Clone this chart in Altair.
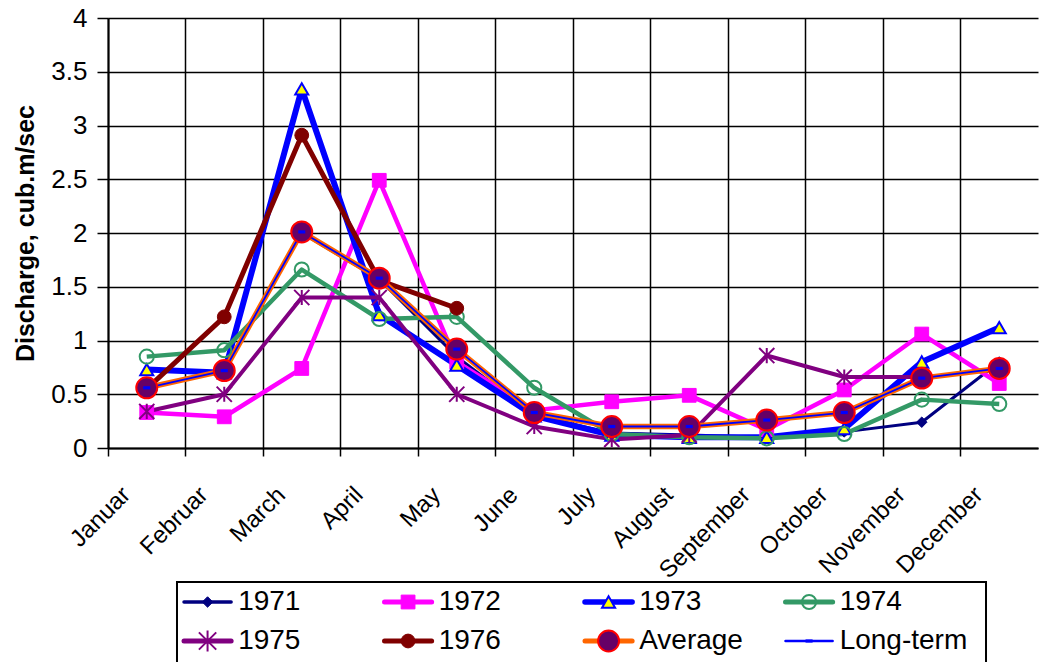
import altair as alt
import pandas as pd

months = ["Januar", "Februar", "March", "April", "May", "June", "July",
          "August", "September", "October", "November", "December"]

s1971 = [0.56, 0.72, 2.00, 1.57, 0.85, 0.30, 0.14, 0.12, 0.10, 0.15, 0.24, 0.80]
s1972 = [0.33, 0.29, 0.74, 2.49, 0.80, 0.35, 0.43, 0.49, 0.17, 0.54, 1.06, 0.60]
s1973 = [0.73, 0.70, 3.34, 1.24, 0.77, 0.30, 0.12, 0.10, 0.10, 0.18, 0.80, 1.12]
s1974 = [0.85, 0.91, 1.66, 1.20, 1.22, 0.56, 0.13, 0.10, 0.09, 0.13, 0.45, 0.41]
s1975 = [0.34, 0.50, 1.40, 1.40, 0.50, 0.20, 0.08, 0.12, 0.86, 0.66, 0.66, None]
s1976 = [0.55, 1.22, 2.91, 1.56, 1.30, None, None, None, None, None, None, None]
average = [0.56, 0.72, 2.01, 1.58, 0.92, 0.33, 0.20, 0.20, 0.26, 0.33, 0.65, 0.74]
long_term = [0.56, 0.72, 2.01, 1.58, 0.92, 0.33, 0.20, 0.20, 0.26, 0.33, 0.65, 0.74]

names = ["1971", "1972", "1973", "1974", "1975", "1976", "Average", "Long-term"]
values = [s1971, s1972, s1973, s1974, s1975, s1976, average, long_term]

STAR = "M-1,-1L1,1M-1,1L1,-1M0,-1L0,1"
STAR8 = "M-1,-1L1,1M-1,1L1,-1M0,-1.2L0,1.2"
DASH = "M-1,-0.45L1,-0.45L1,0.45L-1,0.45Z"

styles = {
    "1971": dict(line="#000080", lw=3, shape="diamond", size=110, filled=True, fill="#000080", stroke="#000080", sw=1),
    "1972": dict(line="#FF00FF", lw=4.5, shape="square", size=190, filled=True, fill="#FF00FF", stroke="#FF00FF", sw=1),
    "1973": dict(line="#0000FF", lw=6, shape="triangle-up", size=170, filled=True, fill="#FFFF00", stroke="#0000FF", sw=2),
    "1974": dict(line="#339966", lw=4.5, shape="circle", size=200, filled=False, fill=None, stroke="#339966", sw=2),
    "1975": dict(line="#800080", lw=4, shape=STAR, size=230, filled=False, fill=None, stroke="#800080", sw=2),
    "1976": dict(line="#800000", lw=5, shape="circle", size=190, filled=True, fill="#800000", stroke="#800000", sw=1),
    "Average": dict(line="#FF6600", lw=5.5, shape="circle", size=440, filled=True, fill="#660066", stroke="#FF0000", sw=2),
    "Long-term": dict(line="#0000FF", lw=1.8, shape=DASH, size=50, filled=True, fill="#0000FF", stroke="#0000FF", sw=0),
}
legend_width = {"1971": 3.5, "1972": 5, "1973": 5.5, "1974": 5, "1975": 5,
                "1976": 5, "Average": 5, "Long-term": 2.5}

FONT = "Liberation Sans"

x_enc = alt.X(
    "month:N", sort=months, title=None,
    scale=alt.Scale(type="band", domain=months, paddingInner=0, paddingOuter=0),
    axis=alt.Axis(
        bandPosition=0, grid=True, gridColor="black", gridWidth=1.5,
        domainColor="black", domainWidth=2, tickColor="black", tickWidth=1.5, tickSize=8,
        labelAngle=-45, labelAlign="right", labelBaseline="middle",
        labelOffset=-20, labelPadding=35, labelFont=FONT, labelFontSize=24,
        labelColor="black", labelOverlap=False, labelFlush=False, labelBound=False,
    ),
)
y_enc = alt.Y(
    "value:Q",
    scale=alt.Scale(domain=[0, 4], nice=False, zero=True),
    axis=alt.Axis(
        values=[0, 0.5, 1, 1.5, 2, 2.5, 3, 3.5, 4], format="~g",
        grid=True, gridColor="black", gridWidth=1.5,
        domainColor="black", domainWidth=2, tickColor="black", tickWidth=1.5, tickSize=11,
        labelFont=FONT, labelFontSize=26, labelColor="black", labelPadding=10,
        title="Discharge, cub.m/sec", titleFont=FONT, titleFontSize=25,
        titleFontWeight="bold", titleColor="black", titlePadding=12,
    ),
)

frames = {}
for n, v in zip(names, values):
    frames[n] = pd.DataFrame({"month": months, "value": v, "series": n})

line_layers = []
point_layers = []
for n in names:
    st = styles[n]
    line_layers.append(
        alt.Chart(frames[n]).mark_line(color=st["line"], strokeWidth=st["lw"], strokeJoin="round")
        .encode(x=x_enc, y=y_enc)
    )
    pkw = dict(shape=st["shape"], size=st["size"], filled=st["filled"], opacity=1,
               stroke=st["stroke"], strokeWidth=st["sw"])
    if st["fill"] is not None:
        pkw["fill"] = st["fill"]
    point_layers.append(
        alt.Chart(frames[n]).mark_point(**pkw).encode(x=x_enc, y=y_enc)
    )

main = alt.layer(*line_layers, *point_layers)

# ---- legend (own scales, in column / row units) ----
leg_x = alt.Scale(domain=[0, 4], range=[72, 874], nice=False, zero=False)
leg_y = alt.Scale(domain=[0, 1], range=[584, 623], nice=False, zero=False)

leg_rows = []
for i, n in enumerate(names):
    c = i % 4
    r = i // 4
    leg_rows.append({"name": n, "row": r, "xs": c + 0.02, "xe": c + 0.255,
                     "xm": c + 0.1375, "xt": c + 0.29})
leg_df = pd.DataFrame(leg_rows)

box_df = pd.DataFrame([{"x0": -0.015, "x1": 4.02, "y0": -0.51, "y1": 1.62}])
box = alt.Chart(box_df).mark_rect(fill="white", stroke="black", strokeWidth=2).encode(
    x=alt.X("x0:Q", scale=leg_x, axis=None),
    x2="x1:Q",
    y=alt.Y("y0:Q", scale=leg_y, axis=None),
    y2="y1:Q",
)

leg_layers = [box]
for n in names:
    st = styles[n]
    sub = leg_df[leg_df["name"] == n]
    leg_layers.append(
        alt.Chart(sub).mark_rule(color=st["line"], strokeWidth=legend_width[n], strokeCap="round")
        .encode(x=alt.X("xs:Q", scale=leg_x, axis=None), x2="xe:Q",
                y=alt.Y("row:Q", scale=leg_y, axis=None))
    )
    shape = STAR8 if n == "1975" else st["shape"]
    size = 300 if n == "1975" else st["size"]
    pkw = dict(shape=shape, size=size, filled=st["filled"], opacity=1,
               stroke=st["stroke"], strokeWidth=st["sw"])
    if st["fill"] is not None:
        pkw["fill"] = st["fill"]
    leg_layers.append(
        alt.Chart(sub).mark_point(**pkw)
        .encode(x=alt.X("xm:Q", scale=leg_x, axis=None),
                y=alt.Y("row:Q", scale=leg_y, axis=None))
    )
leg_layers.append(
    alt.Chart(leg_df).mark_text(align="left", baseline="middle", font=FONT, fontSize=28, color="black")
    .encode(x=alt.X("xt:Q", scale=leg_x, axis=None),
            y=alt.Y("row:Q", scale=leg_y, axis=None),
            text="name:N")
)
legend = alt.layer(*leg_layers)

chart = (
    alt.layer(main, legend)
    .resolve_scale(x="independent", y="independent")
    .properties(
        width=930, height=430,
        autosize=alt.AutoSizeParams(type="none"),
        padding={"left": 108, "top": 18, "right": 1, "bottom": 214},
        background="white",
    )
    .configure_view(stroke=None)
)

chart.save("out.html", embed_options={"renderer": "svg", "actions": False})
